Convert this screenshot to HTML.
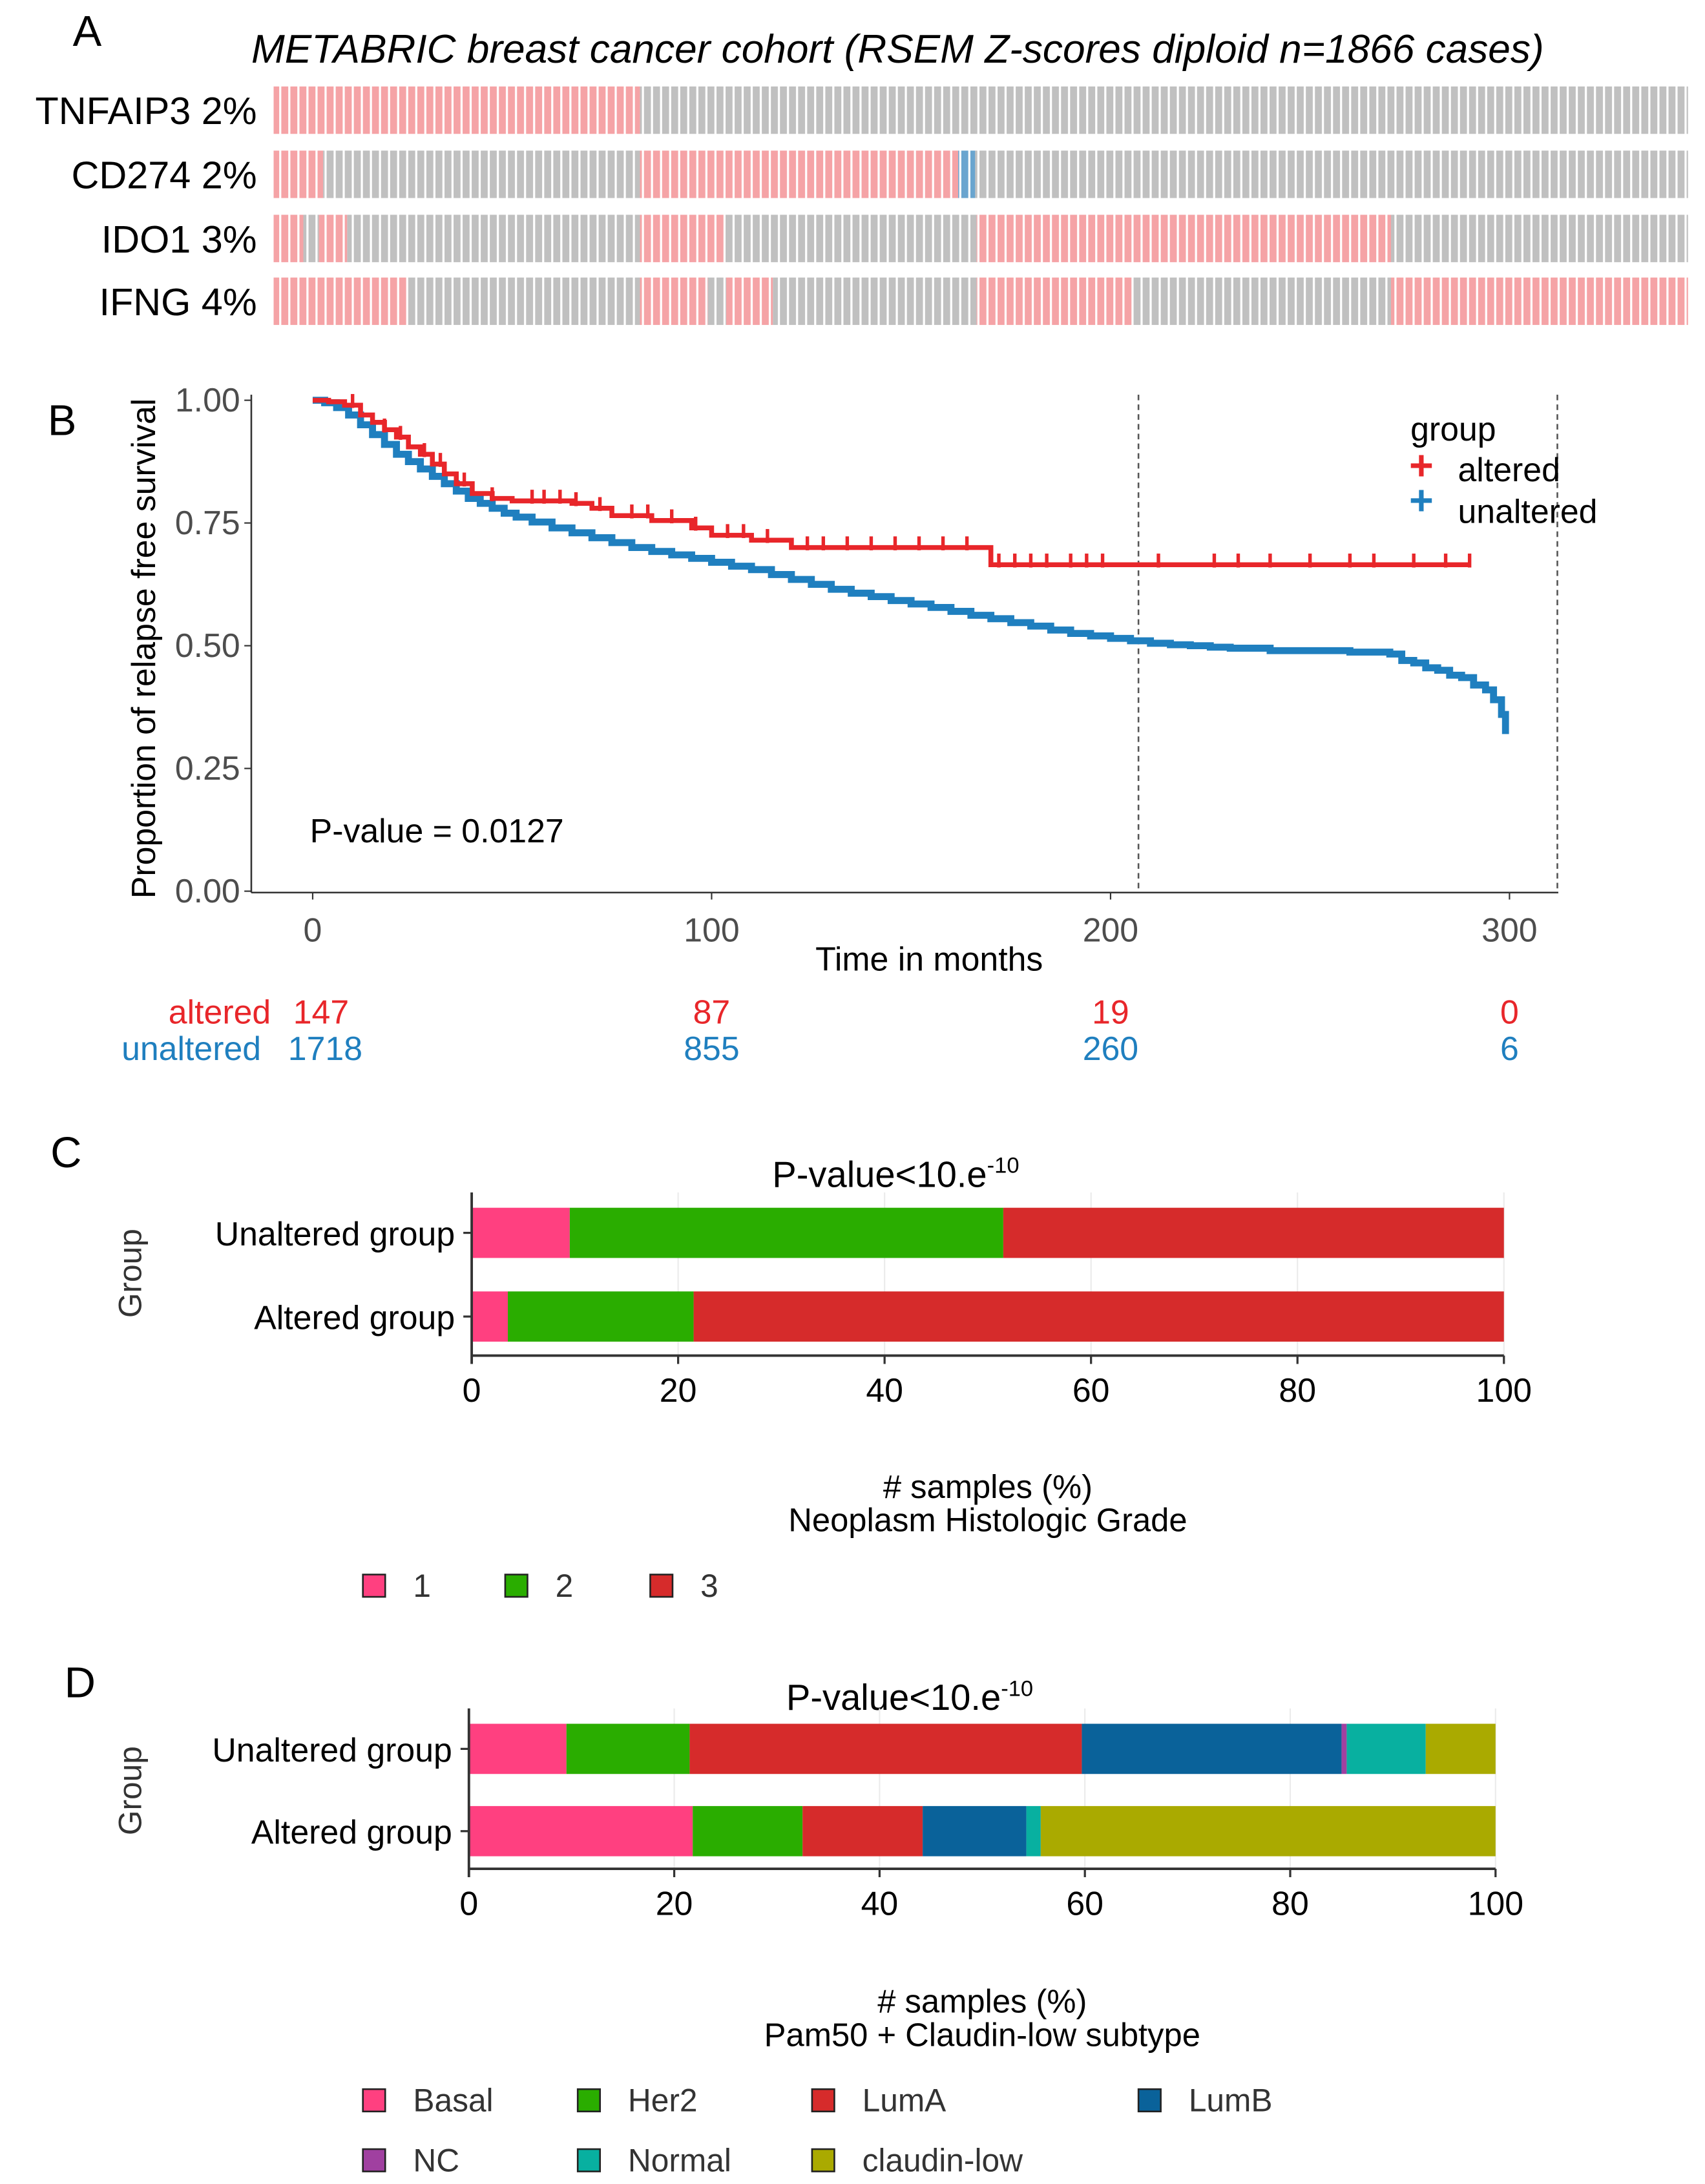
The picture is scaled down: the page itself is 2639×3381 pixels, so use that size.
<!DOCTYPE html>
<html><head><meta charset="utf-8">
<style>
html,body{margin:0;padding:0;background:#fff;}
svg{display:block;font-family:"Liberation Sans",sans-serif;}
</style></head>
<body>
<svg id="fig" width="2639" height="3381" viewBox="0 0 1222 1566" xmlns="http://www.w3.org/2000/svg">
<rect width="1222" height="1566" fill="#fff"/>
<defs>
<pattern id="pinkP" width="6.5" height="10" patternUnits="userSpaceOnUse"><rect width="5" height="10" fill="#f5a3a6"/></pattern>
<pattern id="grayP" width="6.5" height="10" patternUnits="userSpaceOnUse"><rect width="5" height="10" fill="#c0c0c0"/></pattern>
<pattern id="blueP" width="6.5" height="10" patternUnits="userSpaceOnUse"><rect width="5" height="10" fill="#6aa5cf"/></pattern>
</defs>
<text x="52" y="33" font-size="31">A</text>
<text x="180" y="45" font-size="28.8" font-style="italic">METABRIC breast cancer cohort (RSEM Z-scores diploid n=1866 cases)</text>
<g id="onco"></g>
<text x="34" y="312" font-size="31">B</text>
<g id="km"></g>
<text x="36" y="837" font-size="31">C</text>
<g id="barC"></g>
<text x="46" y="1217" font-size="31">D</text>
<g id="barD"></g>
</svg>
<script>
const NS='http://www.w3.org/2000/svg';
const oncoGenes=['TNFAIP3 2%','CD274 2%','IDO1 3%','IFNG 4%'];
const oncoSegs=[
 [['p',0,25.9],['g',25.9,100]],
 [['p',0,3.5],['g',3.5,25.9],['p',25.9,48.4],['b',48.4,49.6],['g',49.6,100]],
 [['p',0,2.1],['g',2.1,3.2],['p',3.2,5.2],['g',5.2,25.9],['p',25.9,31.9],['g',31.9,49.7],['p',49.7,79.0],['g',79.0,100]],
 [['p',0,9.4],['g',9.4,25.9],['p',25.9,30.7],['g',30.7,32.0],['p',32.0,35.3],['g',35.3,49.7],['p',49.7,60.7],['g',60.7,79.0],['p',79.0,100]]
];
const kmAlteredT=[0,4,8,12,15,18,21,24,27,30,33,36,40,45,50,65,70,75,85,95,100,110,120,170,290];
const kmAlteredS=[1,0.997,0.99,0.97,0.955,0.94,0.925,0.905,0.89,0.87,0.85,0.83,0.81,0.80,0.795,0.79,0.78,0.765,0.755,0.74,0.725,0.715,0.70,0.665,0.665];
const kmAlteredCens=[10,18,22,28,32,38,45,55,58,62,66,72,80,84,90,96,104,108,114,124,128,134,140,146,152,158,164,172,176,180,184,190,194,198,212,226,232,240,250,260,266,276,284,290];
const kmUnalteredT=[0,3,6,9,12,15,18,21,24,27,30,33,36,39,42,45,48,51,55,60,65,70,75,80,85,90,95,100,105,110,115,120,125,130,135,140,145,150,155,160,165,170,175,180,185,190,195,200,205,210,215,220,225,230,240,250,260,270,273,276,279,282,285,288,291,294,296,298,299];
const kmUnalteredS=[1,0.995,0.985,0.97,0.95,0.93,0.91,0.89,0.875,0.86,0.845,0.83,0.815,0.80,0.79,0.78,0.77,0.762,0.752,0.74,0.73,0.72,0.71,0.70,0.692,0.685,0.678,0.67,0.662,0.655,0.645,0.635,0.625,0.615,0.607,0.60,0.592,0.585,0.578,0.57,0.562,0.555,0.547,0.54,0.532,0.525,0.52,0.515,0.51,0.505,0.502,0.50,0.497,0.495,0.49,0.49,0.487,0.483,0.47,0.465,0.455,0.45,0.44,0.435,0.42,0.41,0.39,0.36,0.32];
const kmXTicks=[0,100,200,300];
const kmYTicks=[0,0.25,0.5,0.75,1];
const kmYTickLabels=['0.00','0.25','0.50','0.75','1.00'];
const riskTimes=[0,100,200,300];
const riskAltered=['147','87','19','0'];
const riskUnaltered=['1718','855','260','6'];
const kmVLines=[207,312];
const gradeCats=['1','2','3'];
const gradeUnaltered=[9.5,42,48.5];
const gradeAltered=[3.5,18,78.5];
const subtypeCats=['Basal','Her2','LumA','LumB','NC','Normal','claudin-low'];
const subtypeUnaltered=[9.5,12,38.2,25.3,0.5,7.7,6.8];
const subtypeAltered=[21.8,10.7,11.7,10.1,0,1.4,44.3];
const barTicks=[0,20,40,60,80,100];

function el(tag,attrs,parent,text){const e=document.createElementNS(NS,tag);for(const k in attrs)e.setAttribute(k,attrs[k]);if(text!==undefined)e.textContent=text;parent.appendChild(e);return e;}

(function(){
 const g=document.getElementById('onco');
 const x0=196,x1=1210,rows=[62,108,154,199],h=34;
 const fills={p:'url(#pinkP)',g:'url(#grayP)',b:'url(#blueP)'};
 oncoGenes.forEach((name,i)=>{
  const t=el('text',{x:184,y:rows[i]+h/2+10,'font-size':27.5,'text-anchor':'end'},g,name);
  
  
  oncoSegs[i].forEach(s=>{
   const xa=x0+(x1-x0)*s[1]/100, xb=x0+(x1-x0)*s[2]/100;
   const r=el('rect',{x:xa,y:rows[i],width:xb-xa,height:h,fill:fills[s[0]]},g);
   
   
  });
 });
})();

(function(){
 const g=document.getElementById('km');
 const X=t=>224+t*(1082-224)/300, Y=s=>639-s*352;
 const l1=el('line',{x1:180,y1:283,x2:180,y2:640,stroke:'#333','stroke-width':1.2},g);
 
 const l2=el('line',{x1:180,y1:640,x2:1117,y2:640,stroke:'#333','stroke-width':1.2},g);
 
 kmVLines.forEach(v=>{const d=el('line',{x1:X(v),y1:283,x2:X(v),y2:640,stroke:'#555','stroke-width':1.2,'stroke-dasharray':'4,3'},g);
  });
 kmYTicks.forEach((v,i)=>{
  const tk=el('line',{x1:175,y1:Y(v),x2:180,y2:Y(v),stroke:'#333'},g);
  
  const t=el('text',{x:172,y:Y(v)+8,'font-size':24,fill:'#4d4d4d','text-anchor':'end'},g,kmYTickLabels[i]);
  
 });
 kmXTicks.forEach(v=>{
  const tk=el('line',{x1:X(v),y1:640,x2:X(v),y2:645,stroke:'#333'},g);
  
  const t=el('text',{x:X(v),y:675,'font-size':24,fill:'#4d4d4d','text-anchor':'middle'},g,String(v));
  
 });
 const yt=el('text',{x:0,y:0,'font-size':24,'text-anchor':'middle',transform:'translate(111,465) rotate(-90)'},g,'Proportion of relapse free survival');
 
 const xt=el('text',{x:666,y:696,'font-size':24,'text-anchor':'middle'},g,'Time in months');
 
 const pv=el('text',{x:222,y:604,'font-size':24},g,'P-value = 0.0127');
 
 function step(T,S){let d='M'+X(T[0])+','+Y(S[0]);for(let i=1;i<T.length;i++){d+=' H'+X(T[i])+' V'+Y(S[i]);}return d;}
 function survAt(T,S,t){let s=S[0];for(let i=0;i<T.length;i++){if(T[i]<=t)s=S[i];}return s;}
 const pu=el('path',{d:step(kmUnalteredT,kmUnalteredS),fill:'none',stroke:'#1f7fbf','stroke-width':5},g);
 
 const pa=el('path',{d:step(kmAlteredT,kmAlteredS),fill:'none',stroke:'#e8262a','stroke-width':3.5},g);
 
 kmAlteredCens.forEach(t=>{const y=Y(survAt(kmAlteredT,kmAlteredS,t));
  const c=el('line',{x1:X(t),y1:y-8,x2:X(t),y2:y+2,stroke:'#e8262a','stroke-width':2.5},g);
  });
 const lg=el('g',{},g);
 el('text',{x:1011,y:316,'font-size':24},lg,'group');
 el('text',{x:1010,y:344,'font-size':30,fill:'#e8262a','font-weight':'bold'},lg,'+');
 const la=el('text',{x:1045,y:345,'font-size':24},lg,'altered');
 el('text',{x:1010,y:369,'font-size':30,fill:'#1f7fbf','font-weight':'bold'},lg,'+');
 const lu=el('text',{x:1045,y:375,'font-size':24},lg,'unaltered');
 const rt=el('g',{},g);
 el('text',{x:194,y:734,'font-size':24,fill:'#e8262a','text-anchor':'end'},rt,'altered');
 el('text',{x:187,y:760,'font-size':24,fill:'#1f7fbf','text-anchor':'end'},rt,'unaltered');
 riskTimes.forEach((t,i)=>{
  const a=el('text',{x:i===0?230:X(t),y:734,'font-size':24,fill:'#e8262a','text-anchor':'middle'},rt,riskAltered[i]);
  
  const u=el('text',{x:i===0?233:X(t),y:760,'font-size':24,fill:'#1f7fbf','text-anchor':'middle'},rt,riskUnaltered[i]);
  
 });
})();

function stacked(gid,cfg){
 const g=document.getElementById(gid);
 const X=v=>cfg.x0+v*(cfg.x1-cfg.x0)/100;
 const ttl=el('text',{x:cfg.titleX,y:cfg.titleY,'font-size':26,'text-anchor':'middle'},g);
 
 el('tspan',{},ttl,'P-value<10.e');
 el('tspan',{'font-size':16,dy:-10},ttl,'-10');
 barTicks.forEach(v=>{const gl=el('line',{x1:X(v),y1:cfg.axisTop,x2:X(v),y2:cfg.axisY,stroke:'#ebebeb','stroke-width':1},g);
  });
 cfg.rows.forEach((row,ri)=>{
  let acc=0;
  row.vals.forEach((v,ci)=>{
   const r=el('rect',{x:X(acc),y:row.y,width:X(acc+v)-X(acc),height:36,fill:cfg.colors[ci]},g);
   
   
   acc+=v;
  });
  const t=el('text',{x:cfg.x0-12,y:row.y+27,'font-size':24,'text-anchor':'end'},g,row.label);
  
  const tk=el('line',{x1:cfg.x0-6,y1:row.y+18,x2:cfg.x0,y2:row.y+18,stroke:'#333','stroke-width':1.5},g);
  
 });
 const ya=el('line',{x1:cfg.x0,y1:cfg.axisTop,x2:cfg.x0,y2:cfg.axisY+6,stroke:'#333','stroke-width':1.8},g);
 
 const xa=el('line',{x1:cfg.x0,y1:cfg.axisY,x2:cfg.x1,y2:cfg.axisY,stroke:'#333','stroke-width':1.8},g);
 
 barTicks.forEach(v=>{
  const tk=el('line',{x1:X(v),y1:cfg.axisY,x2:X(v),y2:cfg.axisY+6,stroke:'#333','stroke-width':1.5},g);
  
  const t=el('text',{x:X(v),y:cfg.axisY+33,'font-size':24,'text-anchor':'middle'},g,String(v));
  
 });
 const gy=el('text',{x:0,y:0,'font-size':23,fill:'#333','text-anchor':'middle',transform:'translate('+(cfg.groupX)+','+cfg.groupY+') rotate(-90)'},g,'Group');
 
 const s1=el('text',{x:cfg.xtX,y:cfg.xtY,'font-size':23.5,'text-anchor':'middle'},g,'# samples (%)');
 
 const s2=el('text',{x:cfg.xtX,y:cfg.xtY+24,'font-size':23.5,'text-anchor':'middle'},g,cfg.subtitle);
 
 cfg.cats.forEach((c,i)=>{
  const p=cfg.legendPos[i];
  const sq=el('rect',{x:p[0],y:p[1]-8,width:16,height:16,fill:cfg.colors[i],stroke:'#222','stroke-width':1.2},g);
  
  const t=el('text',{x:p[0]+36,y:p[1]+8,'font-size':23,fill:'#333'},g,c);
  
 });
}
stacked('barC',{x0:338,x1:1078,axisTop:855,axisY:972,titleX:642,titleY:851,
 rows:[{key:'unaltered',label:'Unaltered group',y:866,vals:gradeUnaltered},{key:'altered',label:'Altered group',y:926,vals:gradeAltered}],
 cats:gradeCats,colors:['#ff4080','#2aad00','#d62b2b'],groupX:101,groupY:913,xtX:708,xtY:1074,subtitle:'Neoplasm Histologic Grade',
 legendPos:[[260,1137],[362,1137],[466,1137]]});
stacked('barD',{x0:336,x1:1072,axisTop:1225,axisY:1340,titleX:652,titleY:1226,
 rows:[{key:'unaltered',label:'Unaltered group',y:1236,vals:subtypeUnaltered},{key:'altered',label:'Altered group',y:1295,vals:subtypeAltered}],
 cats:subtypeCats,colors:['#ff4080','#2aad00','#d62b2b','#0a629a','#a040a0','#08b0a0','#aaaa00'],groupX:101,groupY:1284,xtX:704,xtY:1443,subtitle:'Pam50 + Claudin-low subtype',
 legendPos:[[260,1506],[414,1506],[582,1506],[816,1506],[260,1549],[414,1549],[582,1549]]});
</script>
</body></html>
